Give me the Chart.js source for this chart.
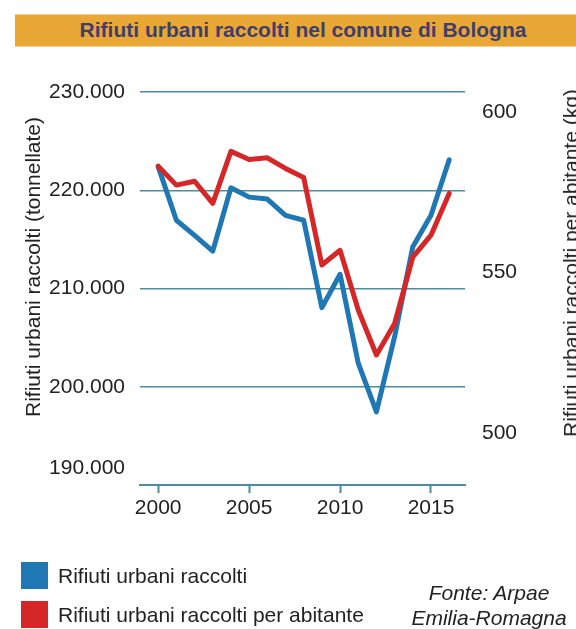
<!DOCTYPE html>
<html lang="it">
<head>
<meta charset="utf-8">
<title>Rifiuti urbani raccolti nel comune di Bologna</title>
<script src="https://cdn.jsdelivr.net/npm/chart.js@4"></script>
<style>
    html, body { margin: 0; padding: 0; background: #fff; }
    body { width: 576px; height: 629px; position: relative; overflow: hidden; font-family: "Liberation Sans", Arial, sans-serif; color: #222; }
    #chart { position: absolute; left: 0; top: 0; }
    .title-bar { position: absolute; left: 15px; top: 14px; width: 561px; height: 33px; background: #e9a736; border-top: 1px solid #f3cf8f; border-bottom: 1px solid #f3cf8f; box-sizing: border-box; }
    .title-bar span { position: absolute; left: 288px; top: 15px; transform: translate(-50%, -50%); white-space: nowrap; font-weight: bold; font-size: 21px; color: #3f3e6c; }
    .axis-title { position: absolute; transform: translate(-50%, -50%) rotate(-90deg); white-space: nowrap; font-size: 21px; color: #222; line-height: 24px; }
    .legend-item { position: absolute; left: 21px; height: 27px; }
    .legend-item i { position: absolute; left: 0; top: 0; width: 27px; height: 27px; }
    .legend-item span { position: absolute; left: 37px; top: 1px; white-space: nowrap; font-size: 21px; line-height: 25px; }
    .source { position: absolute; left: 489px; top: 580px; transform: translateX(-50%); text-align: center; font-style: italic; font-size: 21px; line-height: 25px; white-space: nowrap; color: #222; }
</style>
</head>
<body>
<div class="title-bar"><span>Rifiuti urbani raccolti nel comune di Bologna</span></div>
<canvas id="chart" width="576" height="629"></canvas>
<div class="axis-title" style="left:33px; top:267px;">Rifiuti urbani raccolti (tonnellate)</div>
<div class="axis-title" style="left:571px; top:263px;">Rifiuti urbani raccolti per abitante (kg)</div>
<div id="legend"></div>
<div class="source">Fonte: Arpae<br>Emilia-Romagna</div>

<script>
// dati
const years = [2000, 2001, 2002, 2003, 2004, 2005, 2006, 2007, 2008, 2009, 2010, 2011, 2012, 2013, 2014, 2015, 2016];
const raccolti = [222400, 216950, 215400, 213800, 220250, 219300, 219100, 217450, 216950, 208050, 211450, 202400, 197450, 205100, 214250, 217450, 223100];
const perAbitante = [583.1, 577.2, 578.4, 571.5, 587.7, 585.2, 585.7, 582.4, 579.6, 552.3, 556.9, 538.3, 524.3, 534.1, 554.8, 561.6, 574.6];

const xTicks = [2000, 2005, 2010, 2015];
const leftTicks = [190000, 200000, 210000, 220000, 230000];
const rightTicks = [500, 550, 600];

const seriesNames = ['Rifiuti urbani raccolti', 'Rifiuti urbani raccolti per abitante'];
const seriesColors = ['#1f77b4', '#d62728'];

const teal = '#4a8d9c';
const font = { family: '"Liberation Sans", Arial, sans-serif', size: 21 };

const fmtThousands = v => String(v).replace(/\B(?=(\d{3})+(?!\d))/g, '.');

// legenda in html
const legend = document.getElementById('legend');
seriesNames.forEach((name, i) => {
    const div = document.createElement('div');
    div.className = 'legend-item';
    div.style.top = (562 + i * 38.5) + 'px';
    div.innerHTML = `<i style="background:${seriesColors[i]}"></i><span>${name}</span>`;
    legend.appendChild(div);
});

new Chart(document.getElementById('chart'), {
    type: 'line',
    data: {
        datasets: [{
            label: seriesNames[0],
            data: years.map((y, i) => ({ x: y, y: raccolti[i] })),
            borderColor: seriesColors[0],
            yAxisID: 'y',
            order: 1
        }, {
            label: seriesNames[1],
            data: years.map((y, i) => ({ x: y, y: perAbitante[i] })),
            borderColor: seriesColors[1],
            yAxisID: 'y1',
            order: 0
        }]
    },
    options: {
        responsive: false,
        animation: false,
        devicePixelRatio: 1,
        layout: { padding: { top: 92, left: 0, right: 0, bottom: 0 } },
        elements: {
            line: { borderWidth: 5, tension: 0, borderCapStyle: 'round', borderJoinStyle: 'round' },
            point: { radius: 0 }
        },
        plugins: { legend: { display: false }, title: { display: false }, tooltip: { enabled: false } },
        scales: {
            x: {
                type: 'linear',
                min: 1999,
                max: 2016.87,
                afterBuildTicks: s => { s.ticks = xTicks.map(v => ({ value: v })); },
                afterFit: s => { s.height = 629 - 485; },
                border: { display: true, color: teal, width: 2 },
                grid: { drawOnChartArea: false, drawTicks: true, tickLength: 8, tickWidth: 2, tickColor: teal },
                ticks: { font, color: '#222', padding: 3, callback: v => String(v) }
            },
            y: {
                position: 'left',
                min: 190000,
                max: 230000,
                // l'etichetta 190.000 nell'originale è alzata rispetto all'asse
                afterBuildTicks: s => { s.ticks = leftTicks.map(v => ({ value: v === 190000 ? v + 1700 : v })); },
                afterFit: s => { s.width = 140; },
                border: { display: false },
                grid: {
                    drawTicks: false,
                    lineWidth: 1.5,
                    color: c => (c.tick && c.tick.value % 10000 === 0 && c.tick.value > 190000) ? teal : 'rgba(0,0,0,0)'
                },
                ticks: { font, color: '#222', padding: 15, callback: v => fmtThousands(Math.round(v / 10000) * 10000) }
            },
            y1: {
                position: 'right',
                min: 483.8,
                max: 606.2,
                afterBuildTicks: s => { s.ticks = rightTicks.map(v => ({ value: v })); },
                afterFit: s => { s.width = 576 - 465; },
                border: { display: false },
                grid: { display: false, drawTicks: false },
                ticks: { font, color: '#222', padding: 17 }
            }
        }
    }
});
</script>
</body>
</html>
